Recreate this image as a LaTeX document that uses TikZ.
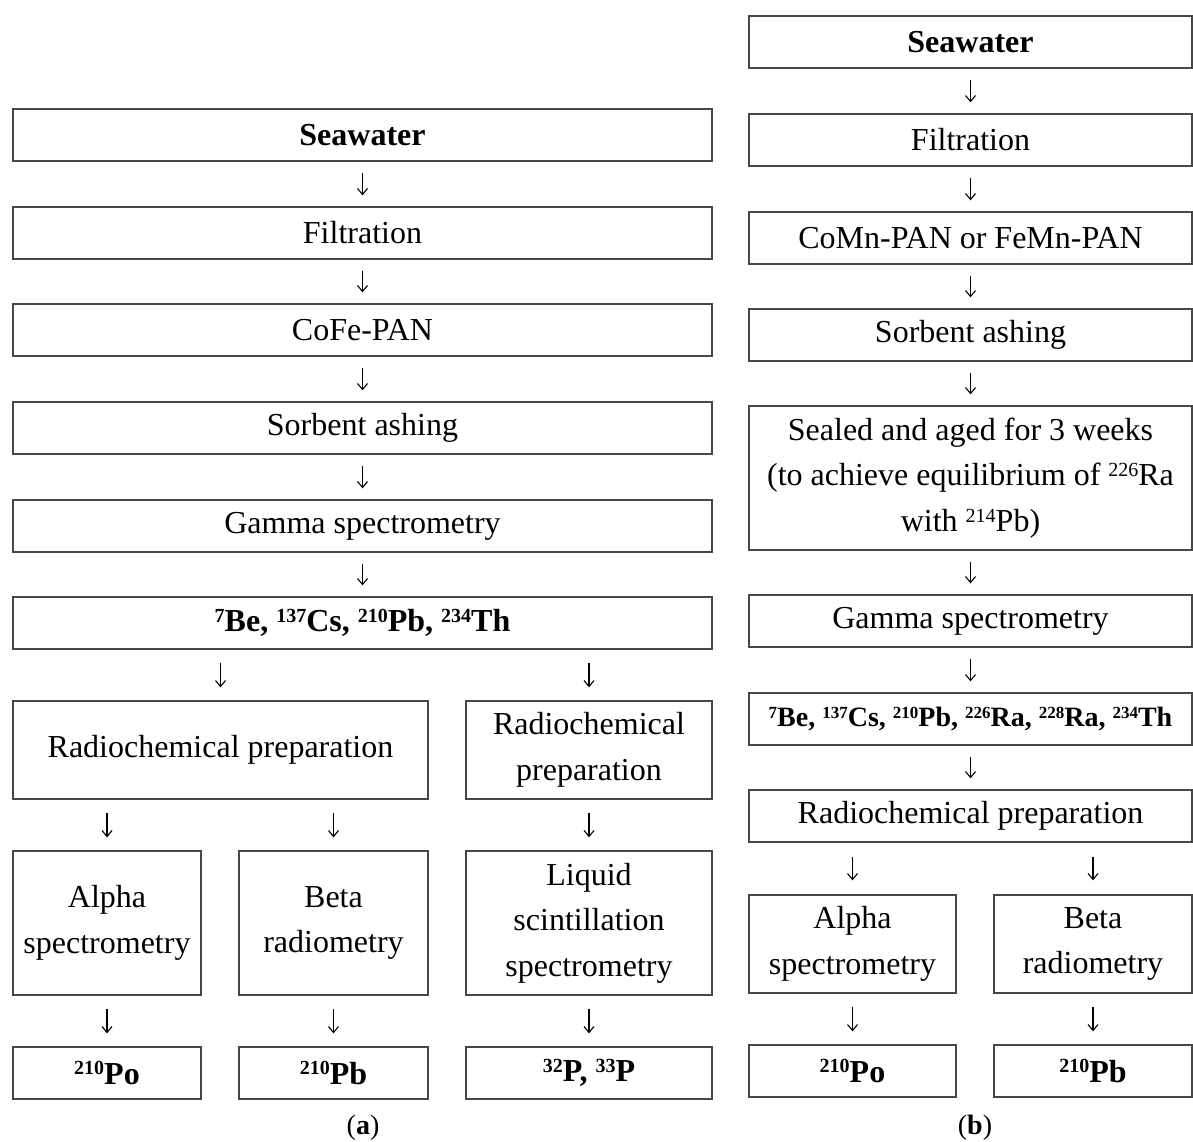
\documentclass[tikz,border=0pt]{standalone}
\usepackage{fontspec}
\setmainfont{Liberation Serif}
\usetikzlibrary{arrows.meta}
\newcommand{\supnum}[1]{\raisebox{0.62ex}{\fontsize{20}{20}\selectfont #1}}
\newcommand{\supsm}[1]{\raisebox{0.62ex}{\fontsize{17}{17}\selectfont #1}}
\tikzset{
  box/.style={draw=black!72, line width=1.3pt, align=center, inner sep=0pt,
    font=\fontsize{32}{45.5}\selectfont, text=black},
  arr/.style={draw=black, line width=1.1pt, -{Straight Barb[length=6pt,width=10pt]},
    shorten <=#1, shorten >=#1},
  lbl/.style={font=\fontsize{28}{30}\selectfont, inner sep=0pt},
}
\begin{document}
\begin{tikzpicture}[x=1pt,y=-1pt]
\useasboundingbox (0,0) rectangle (1193,1142);
% ---------- panel (a) ----------
\node[box, minimum width=699, minimum height=52] (swa) at (362.5,135) {\textbf{Seawater}};
\node[box, minimum width=699, minimum height=52] (fia) at (362.5,233) {Filtration};
\node[box, minimum width=699, minimum height=52] (coa) at (362.5,330) {CoFe-PAN};
\node[box, minimum width=699, minimum height=52] (soa) at (362.5,428) {Sorbent ashing};
\node[box, minimum width=699, minimum height=52] (gaa) at (362.5,526) {Gamma spectrometry};
\node[box, minimum width=699, minimum height=52] (bea) at (362.5,623)
  {\textbf{\supnum{7}Be, \supnum{137}Cs, \supnum{210}Pb, \supnum{234}Th}};
\node[box, minimum width=415, minimum height=98] (rpa) at (220.5,750) {Radiochemical preparation};
\node[box, minimum width=246, minimum height=98] (rqa) at (589,750) {Radiochemical\\preparation};
\node[box, minimum width=188, minimum height=144] (ala) at (107,923) {Alpha\\spectrometry};
\node[box, minimum width=189, minimum height=144] (bta) at (333.5,923) {Beta\\radiometry};
\node[box, minimum width=246, minimum height=144] (lqa) at (589,923) {Liquid\\scintillation\\spectrometry};
\node[box, minimum width=188, minimum height=52] (poa) at (107,1073) {\textbf{\supnum{210}Po}};
\node[box, minimum width=189, minimum height=52] (pba) at (333.5,1073) {\textbf{\supnum{210}Pb}};
\node[box, minimum width=246, minimum height=52] (pa) at (589,1073) {\textbf{\supnum{32}P, \supnum{33}P}};
\node[lbl] (la) at (363,1128) {(\textbf{a})};
% arrows (a)
\draw[arr=11] (swa) -- (fia);
\draw[arr=11] (fia) -- (coa);
\draw[arr=11] (coa) -- (soa);
\draw[arr=11] (soa) -- (gaa);
\draw[arr=11] (gaa) -- (bea);
\draw[arr=13] (bea.south -| rpa.north) -- (rpa.north);
\draw[arr=13] (bea.south -| rqa.north) -- (rqa.north);
\draw[arr=13] (rpa.south -| ala.north) -- (ala.north);
\draw[arr=13] (rpa.south -| bta.north) -- (bta.north);
\draw[arr=13] (rqa) -- (lqa);
\draw[arr=13] (ala) -- (poa);
\draw[arr=13] (bta) -- (pba);
\draw[arr=13] (lqa) -- (pa);
% ---------- panel (b) ----------
\node[box, minimum width=443, minimum height=52] (swb) at (970.5,42) {\textbf{Seawater}};
\node[box, minimum width=443, minimum height=52] (fib) at (970.5,140) {Filtration};
\node[box, minimum width=443, minimum height=52] (cob) at (970.5,238) {CoMn-PAN or FeMn-PAN};
\node[box, minimum width=443, minimum height=52] (sob) at (970.5,335) {Sorbent ashing};
\node[box, minimum width=443, minimum height=144] (seb) at (970.5,478)
  {Sealed and aged for 3 weeks\\(to achieve equilibrium of \supnum{226}Ra\\with \supnum{214}Pb)};
\node[box, minimum width=443, minimum height=52] (gab) at (970.5,621) {Gamma spectrometry};
\node[box, minimum width=443, minimum height=52, font=\fontsize{28}{30}\selectfont] (beb) at (970.5,719)
  {\textbf{\supsm{7}Be, \supsm{137}Cs, \supsm{210}Pb, \supsm{226}Ra, \supsm{228}Ra, \supsm{234}Th}};
\node[box, minimum width=443, minimum height=52] (rpb) at (970.5,816) {Radiochemical preparation};
\node[box, minimum width=207, minimum height=98] (alb) at (852.5,944) {Alpha\\spectrometry};
\node[box, minimum width=198, minimum height=98] (btb) at (1093,944) {Beta\\radiometry};
\node[box, minimum width=207, minimum height=52] (pob) at (852.5,1071) {\textbf{\supnum{210}Po}};
\node[box, minimum width=198, minimum height=52] (pbb) at (1093,1071) {\textbf{\supnum{210}Pb}};
\node[lbl] (lb) at (975,1128) {(\textbf{b})};
% arrows (b)
\draw[arr=11] (swb) -- (fib);
\draw[arr=11] (fib) -- (cob);
\draw[arr=11] (cob) -- (sob);
\draw[arr=11] (sob) -- (seb);
\draw[arr=11] (seb) -- (gab);
\draw[arr=11] (gab) -- (beb);
\draw[arr=11] (beb) -- (rpb);
\draw[arr=14] (rpb.south -| alb.north) -- (alb.north);
\draw[arr=14] (rpb.south -| btb.north) -- (btb.north);
\draw[arr=13] (alb) -- (pob);
\draw[arr=13] (btb) -- (pbb);
\end{tikzpicture}
\end{document}
